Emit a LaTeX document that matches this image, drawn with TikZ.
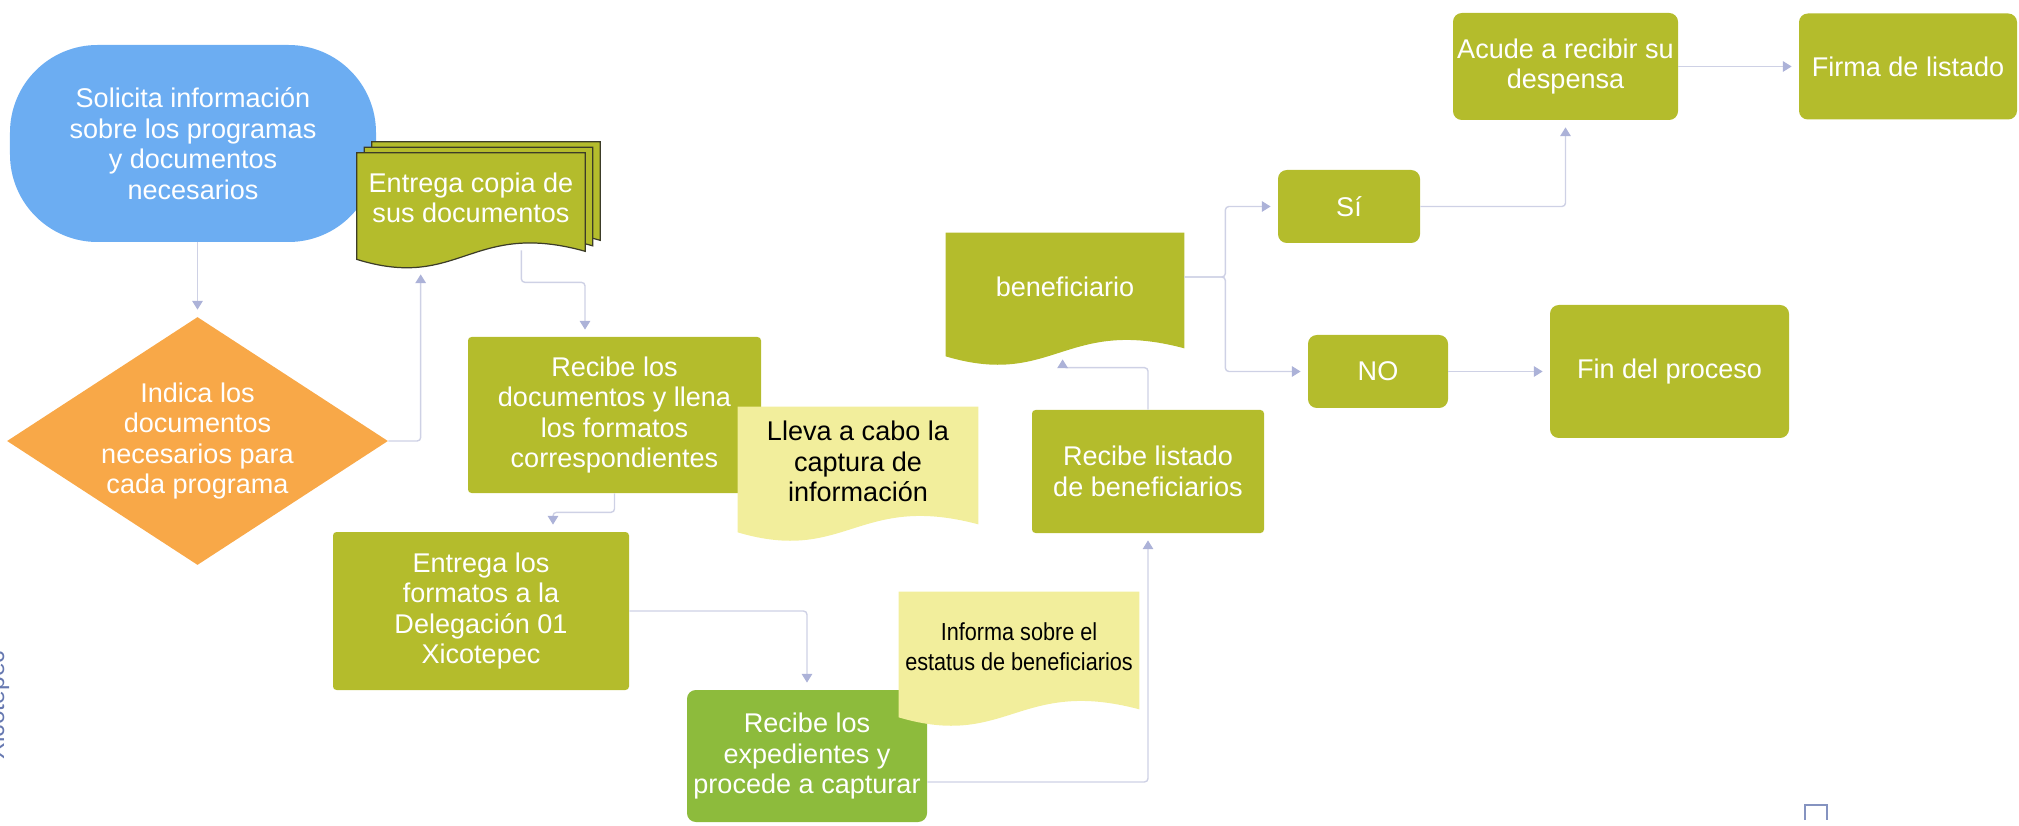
\documentclass[tikz,border=0pt]{standalone}
\usepackage{fontspec}
\setmainfont{Liberation Sans}
\newfontfamily\narrowfont{Liberation Sans}[FakeStretch=0.88]
\usetikzlibrary{positioning,calc,arrows.meta,shapes.geometric}

\pgfdeclarelayer{frente}
\pgfsetlayers{main,frente}

\definecolor{azul}{RGB}{108,173,242}
\definecolor{naranja}{RGB}{248,168,72}
\definecolor{olivo}{RGB}{180,188,44}
\definecolor{verde}{RGB}{141,187,60}
\definecolor{crema}{RGB}{242,238,156}
\definecolor{conector}{RGB}{206,209,229}
\definecolor{flecha}{RGB}{172,178,216}
\definecolor{borde}{RGB}{60,60,40}
\definecolor{rotulo}{RGB}{102,120,176}

% hoja con borde ondulado abajo
\newcommand{\hoja}[2]{%
  \filldraw[#2] (#1.north west) -- (#1.north east)
    -- ($(#1.south east)+(0,-0.16)$)
    .. controls ($(#1.south west)!0.5!(#1.south east)+(0,0.48)$)
    and ($(#1.south west)!0.45!(#1.south east)+(0,-0.96)$)
    .. ($(#1.south west)+(0,-0.32)$) -- cycle;}

\begin{document}
\begin{tikzpicture}[node distance=2cm, on grid, auto,
    texto/.style={align=center, text=white, inner sep=0pt,
      font=\fontsize{15.4}{17.4}\selectfont},
    inicio/.style={texto, rectangle, rounded corners=1.75cm, fill=azul},
    decision/.style={texto, diamond, shape aspect=1.52, fill=naranja},
    proceso/.style={texto, rectangle, rounded corners=2pt, fill=olivo},
    respuesta/.style={proceso, rounded corners=5pt},
    hoja/.style={texto, rectangle},
    nota/.style={hoja, text=black},
    flujo/.style={draw=conector, line width=0.8pt, rounded corners=2pt,
      shorten >=4pt, -{Triangle[length=5pt,width=6pt,color=flecha]}}]

   \useasboundingbox (0,0) rectangle (40.38,-16.52);

   \node[inicio, minimum width=7.32cm, minimum height=3.94cm] (sol) at (3.86,-2.87)
      {Solicita información\\sobre los programas\\y documentos\\necesarios};
   \node[decision, minimum width=7.62cm, minimum height=4.96cm] (ind)
      [below right=5.95cm and 0.09cm of sol]
      {Indica los\\documentos\\necesarios para\\cada programa};
   \begin{pgfonlayer}{frente}
   \node[hoja, minimum width=4.56cm, minimum height=1.8cm] (cop)
      [below right=1.09cm and 5.56cm of sol] {Entrega copia de\\sus documentos};
   \end{pgfonlayer}
   \node[proceso, minimum width=5.86cm, minimum height=3.12cm] (rec_doc)
      [below right=4.34cm and 2.87cm of cop]
      {Recibe los\\documentos y llena\\los formatos\\correspondientes};
   \node[proceso, minimum width=5.92cm, minimum height=3.16cm] (ent_for)
      [below left=3.92cm and 2.67cm of rec_doc]
      {Entrega los\\formatos a la\\Delegación 01\\Xicotepec};
   \node[proceso, fill=verde, rounded corners=5pt, minimum width=4.8cm, minimum height=2.64cm] (rec_exp)
      [below right=2.90cm and 6.52cm of ent_for]
      {Recibe los\\expedientes y\\procede a capturar};
   \begin{pgfonlayer}{frente}
   \node[nota, minimum width=4.8cm, minimum height=2.18cm] (lleva)
      [below right=0.93cm and 4.87cm of rec_doc] {Lleva a cabo la\\captura de\\información};
   \node[nota, font=\narrowfont\fontsize{14}{17}\selectfont, minimum width=4.8cm, minimum height=2.18cm] (informa)
      [above right=2.19cm and 4.24cm of rec_exp] {Informa sobre el\\estatus de beneficiarios};
   \end{pgfonlayer}
   \node[proceso, minimum width=4.64cm, minimum height=2.46cm] (rec_list)
      [above right=5.69cm and 6.82cm of rec_exp] {Recibe listado\\de beneficiarios};
   \begin{pgfonlayer}{frente}
   \node[hoja, minimum width=4.76cm, minimum height=2.14cm] (benef)
      [above left=3.70cm and 1.66cm of rec_list] {beneficiario};
   \end{pgfonlayer}
   \node[respuesta, minimum width=2.84cm, minimum height=1.46cm] (si)
      [above right=1.60cm and 5.68cm of benef] {Sí};
   \node[respuesta, minimum width=2.8cm, minimum height=1.46cm] (no)
      [below right=1.70cm and 6.26cm of benef] {NO};
   \node[respuesta, minimum width=4.78cm, minimum height=2.66cm] (fin)
      [right=5.83cm of no] {Fin del proceso};
   \node[respuesta, minimum width=4.5cm, minimum height=2.14cm] (acude)
      [above right=2.80cm and 4.33cm of si] {Acude a recibir su\\despensa};
   \node[respuesta, minimum width=4.36cm, minimum height=2.12cm] (firma)
      [right=6.85cm of acude] {Firma de listado};

   \foreach \s in {2,1,0}
      \hoja{cop}{fill=olivo, draw=borde, line width=0.7pt,
         transform canvas={shift={(\s*0.15cm,\s*0.11cm)}}};
   \hoja{lleva}{fill=crema, draw=none}
   \hoja{informa}{fill=crema, draw=none}
   \hoja{benef}{fill=olivo, draw=none}

   \coordinate (cop_b) at ($(cop.south west)!0.28!(cop.south east)+(0,-0.48)$);
   \coordinate (cop_s) at ($(cop.south west)!0.72!(cop.south east)+(0,-0.14)$);
   \coordinate (benef_b) at ($(benef.south west)!0.49!(benef.south east)+(0,-0.24)$);

   \draw[flujo] (sol.south -| ind.north) -- (ind.north);
   \draw[flujo] (ind.east) -| (cop_b);
   \draw[flujo] (cop_s) -- ++(0,-0.64) -| ([xshift=-0.59cm]rec_doc.north);
   \draw[flujo] (rec_doc.south) -- ++(0,-0.38) -| ([xshift=1.44cm]ent_for.north);
   \draw[flujo] (ent_for.east) -| (rec_exp.north);
   \draw[flujo] ([yshift=-0.52cm]rec_exp.east) -| (rec_list.south);
   \draw[flujo] (rec_list.north) -- ++(0,0.84) -| (benef_b);
   \draw[flujo] ([yshift=0.19cm]benef.east) -- ++(0.82,0) |- (si.west);
   \draw[flujo] ([yshift=0.19cm]benef.east) -- ++(0.82,0) |- (no.west);
   \draw[flujo] (si.east) -| (acude.south);
   \draw[flujo] (acude.east) -- (acude.east -| firma.west);
   \draw[flujo] (no.east) -- (no.east -| fin.west);

   \begin{scope}
      \clip (0,0) rectangle (1,-16.52);
      \node[rotate=90, anchor=base, text=rotulo, font=\fontsize{14}{17}\selectfont] (xico)
         at (0.08,-14.1) {Xicotepec};
   \end{scope}
   \draw[rotulo!80, line width=1pt] (36.1,-16.4) |- (36.54,-16.1) -- (36.54,-16.4);
\end{tikzpicture}
\end{document}
